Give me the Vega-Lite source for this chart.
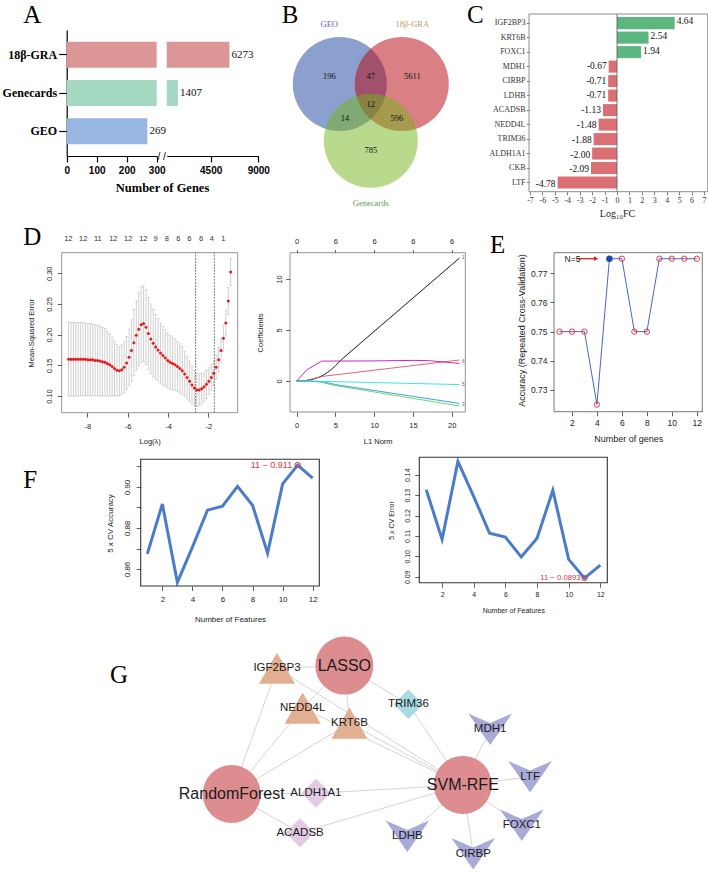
{
  "$schema": "https://vega.github.io/schema/vega-lite/v6.json",
  "width": 708,
  "height": 872,
  "autosize": {"type": "none"},
  "padding": 0,
  "background": "white",
  "config": {
    "view": {"stroke": null},
    "locale": {"number": {"decimal": ".", "thousands": ",", "grouping": [3], "currency": ["$", ""], "minus": "-"}},
    "axis": {"domain": false, "grid": false, "tickColor": "#333333", "tickWidth": 0.8, "labelFont": "Liberation Sans", "labelFontSize": 7.5, "labelColor": "#222222", "labelFlush": false, "labelOverlap": false, "titleFont": "Liberation Sans", "titleFontSize": 7.5, "titleFontWeight": "normal", "titleColor": "#222222", "titleBaseline": "middle", "titleAlign": "center", "titlePadding": 0},
    "text": {"font": "Liberation Sans"}
  },
  "datasets": {
    "genes_a": [{"set": "18β-GRA", "n": 6273}, {"set": "Genecards", "n": 1407}, {"set": "GEO", "n": 269}],
    "venn": [{"set": "GEO", "cx": -1, "cy": 0}, {"set": "18β-GRA", "cx": 1, "cy": 0}, {"set": "Genecards", "cx": 0, "cy": -1.83}],
    "venn_labels": [{"set": "GEO", "lx": -1.34, "ly": 1.935}, {"set": "18β-GRA", "lx": 1.34, "ly": 1.935}, {"set": "Genecards", "lx": 0, "ly": -3.83}],
    "venn_counts": [{"count": 196, "vx": -1.34, "vy": 0.26}, {"count": 47, "vx": 0, "vy": 0.26}, {"count": 5611, "vx": 1.34, "vy": 0.26}, {"count": 12, "vx": 0, "vy": -0.65}, {"count": 14, "vx": -0.83, "vy": -1.11}, {"count": 596, "vx": 0.84, "vy": -1.11}, {"count": 785, "vx": 0, "vy": -2.13}],
    "dge": [{"gene": "IGF2BP3", "fc": 4.64}, {"gene": "KRT6B", "fc": 2.54}, {"gene": "FOXC1", "fc": 1.94}, {"gene": "MDH1", "fc": -0.67}, {"gene": "CIRBP", "fc": -0.71}, {"gene": "LDHB", "fc": -0.71}, {"gene": "ACADSB", "fc": -1.13}, {"gene": "NEDD4L", "fc": -1.48}, {"gene": "TRIM36", "fc": -1.88}, {"gene": "ALDH1A1", "fc": -2.0}, {"gene": "CKB", "fc": -2.09}, {"gene": "LTF", "fc": -4.78}],
    "cv": [
      {"l": -8.93, "m": 0.160, "lo": 0.100, "hi": 0.220}, {"l": -8.81, "m": 0.160, "lo": 0.100, "hi": 0.220}, {"l": -8.69, "m": 0.160, "lo": 0.100, "hi": 0.220}, {"l": -8.57, "m": 0.160, "lo": 0.100, "hi": 0.220},
      {"l": -8.45, "m": 0.160, "lo": 0.100, "hi": 0.220}, {"l": -8.33, "m": 0.160, "lo": 0.100, "hi": 0.220}, {"l": -8.21, "m": 0.160, "lo": 0.100, "hi": 0.220}, {"l": -8.09, "m": 0.160, "lo": 0.101, "hi": 0.219},
      {"l": -7.97, "m": 0.159, "lo": 0.100, "hi": 0.218}, {"l": -7.85, "m": 0.159, "lo": 0.100, "hi": 0.218}, {"l": -7.73, "m": 0.159, "lo": 0.101, "hi": 0.217}, {"l": -7.61, "m": 0.158, "lo": 0.100, "hi": 0.216},
      {"l": -7.49, "m": 0.158, "lo": 0.101, "hi": 0.215}, {"l": -7.37, "m": 0.157, "lo": 0.100, "hi": 0.214}, {"l": -7.25, "m": 0.156, "lo": 0.100, "hi": 0.212}, {"l": -7.13, "m": 0.155, "lo": 0.100, "hi": 0.210},
      {"l": -7.01, "m": 0.153, "lo": 0.100, "hi": 0.206}, {"l": -6.89, "m": 0.151, "lo": 0.100, "hi": 0.202}, {"l": -6.77, "m": 0.148, "lo": 0.100, "hi": 0.196}, {"l": -6.65, "m": 0.145, "lo": 0.100, "hi": 0.190},
      {"l": -6.53, "m": 0.142, "lo": 0.100, "hi": 0.184}, {"l": -6.41, "m": 0.141, "lo": 0.101, "hi": 0.181}, {"l": -6.29, "m": 0.143, "lo": 0.103, "hi": 0.183}, {"l": -6.17, "m": 0.147, "lo": 0.106, "hi": 0.188},
      {"l": -6.05, "m": 0.154, "lo": 0.111, "hi": 0.197}, {"l": -5.93, "m": 0.163, "lo": 0.117, "hi": 0.209}, {"l": -5.81, "m": 0.174, "lo": 0.124, "hi": 0.224}, {"l": -5.69, "m": 0.187, "lo": 0.133, "hi": 0.241},
      {"l": -5.57, "m": 0.199, "lo": 0.142, "hi": 0.256}, {"l": -5.45, "m": 0.209, "lo": 0.149, "hi": 0.269}, {"l": -5.33, "m": 0.216, "lo": 0.154, "hi": 0.278}, {"l": -5.21, "m": 0.218, "lo": 0.156, "hi": 0.280},
      {"l": -5.09, "m": 0.212, "lo": 0.151, "hi": 0.273}, {"l": -4.97, "m": 0.202, "lo": 0.143, "hi": 0.261}, {"l": -4.85, "m": 0.193, "lo": 0.136, "hi": 0.250}, {"l": -4.73, "m": 0.186, "lo": 0.131, "hi": 0.241},
      {"l": -4.61, "m": 0.180, "lo": 0.127, "hi": 0.233}, {"l": -4.49, "m": 0.175, "lo": 0.124, "hi": 0.226}, {"l": -4.37, "m": 0.170, "lo": 0.121, "hi": 0.219}, {"l": -4.25, "m": 0.166, "lo": 0.118, "hi": 0.214},
      {"l": -4.13, "m": 0.162, "lo": 0.116, "hi": 0.208}, {"l": -4.01, "m": 0.158, "lo": 0.113, "hi": 0.203}, {"l": -3.89, "m": 0.155, "lo": 0.111, "hi": 0.199}, {"l": -3.77, "m": 0.153, "lo": 0.110, "hi": 0.196},
      {"l": -3.65, "m": 0.151, "lo": 0.109, "hi": 0.193}, {"l": -3.53, "m": 0.148, "lo": 0.107, "hi": 0.189}, {"l": -3.41, "m": 0.145, "lo": 0.105, "hi": 0.185}, {"l": -3.29, "m": 0.141, "lo": 0.102, "hi": 0.180},
      {"l": -3.17, "m": 0.136, "lo": 0.099, "hi": 0.173}, {"l": -3.05, "m": 0.130, "lo": 0.095, "hi": 0.165}, {"l": -2.93, "m": 0.124, "lo": 0.091, "hi": 0.157}, {"l": -2.81, "m": 0.118, "lo": 0.087, "hi": 0.149},
      {"l": -2.69, "m": 0.113, "lo": 0.084, "hi": 0.142}, {"l": -2.57, "m": 0.110, "lo": 0.083, "hi": 0.137}, {"l": -2.45, "m": 0.110, "lo": 0.084, "hi": 0.136}, {"l": -2.33, "m": 0.112, "lo": 0.087, "hi": 0.137},
      {"l": -2.21, "m": 0.115, "lo": 0.091, "hi": 0.139}, {"l": -2.09, "m": 0.119, "lo": 0.096, "hi": 0.142}, {"l": -1.97, "m": 0.124, "lo": 0.102, "hi": 0.146}, {"l": -1.85, "m": 0.130, "lo": 0.109, "hi": 0.151},
      {"l": -1.73, "m": 0.137, "lo": 0.117, "hi": 0.157}, {"l": -1.61, "m": 0.147, "lo": 0.127, "hi": 0.167}, {"l": -1.49, "m": 0.159, "lo": 0.139, "hi": 0.179}, {"l": -1.37, "m": 0.174, "lo": 0.154, "hi": 0.194},
      {"l": -1.25, "m": 0.194, "lo": 0.173, "hi": 0.215}, {"l": -1.13, "m": 0.219, "lo": 0.198, "hi": 0.240}, {"l": -1.01, "m": 0.255, "lo": 0.233, "hi": 0.277}, {"l": -0.89, "m": 0.302, "lo": 0.280, "hi": 0.325}
    ],
    "dfl": [{"l": -8.94, "df": 12}, {"l": -8.2, "df": 12}, {"l": -7.48, "df": 11}, {"l": -6.71, "df": 12}, {"l": -5.97, "df": 12}, {"l": -5.22, "df": 12}, {"l": -4.61, "df": 9}, {"l": -4.06, "df": 8}, {"l": -3.49, "df": 6}, {"l": -2.94, "df": 6}, {"l": -2.36, "df": 6}, {"l": -1.82, "df": 4}, {"l": -1.26, "df": 1}],
    "cvlines": [{"which": "lambda.min", "l": -2.63}, {"which": "lambda.1se", "l": -1.7}],
    "coef": [
      {"v": "1", "n": 0, "c": 0}, {"v": "1", "n": 1, "c": 0.02}, {"v": "1", "n": 2, "c": 0.15}, {"v": "1", "n": 3, "c": 0.4}, {"v": "1", "n": 3.5, "c": 0.6}, {"v": "1", "n": 4, "c": 0.85}, {"v": "1", "n": 4.5, "c": 1.15}, {"v": "1", "n": 5, "c": 1.5}, {"v": "1", "n": 6, "c": 2.25}, {"v": "1", "n": 21, "c": 12.05},
      {"v": "2", "n": 0, "c": 0}, {"v": "2", "n": 1, "c": 0}, {"v": "2", "n": 3.3, "c": 0.45}, {"v": "2", "n": 21, "c": 2.06},
      {"v": "3", "n": 0, "c": 0}, {"v": "3", "n": 1, "c": 0}, {"v": "3", "n": 3, "c": -0.1}, {"v": "3", "n": 5, "c": -0.45}, {"v": "3", "n": 21, "c": -2.45},
      {"v": "4", "n": 0, "c": 0}, {"v": "4", "n": 1, "c": 0}, {"v": "4", "n": 3.3, "c": -0.05}, {"v": "4", "n": 5, "c": -0.35}, {"v": "4", "n": 21, "c": -2.2},
      {"v": "5", "n": 0, "c": 0}, {"v": "5", "n": 1, "c": 0}, {"v": "5", "n": 3, "c": -0.03}, {"v": "5", "n": 21, "c": -0.35},
      {"v": "6", "n": 0, "c": 0}, {"v": "6", "n": 0.6, "c": 0.5}, {"v": "6", "n": 1.3, "c": 1.1}, {"v": "6", "n": 2, "c": 1.4}, {"v": "6", "n": 3.2, "c": 1.95}, {"v": "6", "n": 10, "c": 1.97}, {"v": "6", "n": 15, "c": 2.02}, {"v": "6", "n": 17, "c": 2.0}, {"v": "6", "n": 21, "c": 1.72}
    ],
    "coefends": [{"v": "1", "n": 21, "c": 12.05}, {"v": "6", "n": 21, "c": 1.9}, {"v": "5", "n": 21, "c": -0.35}, {"v": "3", "n": 21, "c": -2.35}],
    "rfe": [{"k": 1, "acc": 0.75}, {"k": 2, "acc": 0.75}, {"k": 3, "acc": 0.75}, {"k": 4, "acc": 0.725}, {"k": 5, "acc": 0.775}, {"k": 6, "acc": 0.775}, {"k": 7, "acc": 0.75}, {"k": 8, "acc": 0.75}, {"k": 9, "acc": 0.775}, {"k": 10, "acc": 0.775}, {"k": 11, "acc": 0.775}, {"k": 12, "acc": 0.775}],
    "svmacc": [{"k": 1, "acc": 0.8674}, {"k": 2, "acc": 0.8917}, {"k": 3, "acc": 0.8535}, {"k": 4, "acc": 0.8707}, {"k": 5, "acc": 0.8887}, {"k": 6, "acc": 0.8906}, {"k": 7, "acc": 0.9003}, {"k": 8, "acc": 0.8911}, {"k": 9, "acc": 0.8677}, {"k": 10, "acc": 0.9015}, {"k": 11, "acc": 0.9107}, {"k": 12, "acc": 0.9043}],
    "svmerr": [{"k": 1, "err": 0.1326}, {"k": 2, "err": 0.1083}, {"k": 3, "err": 0.1465}, {"k": 4, "err": 0.1293}, {"k": 5, "err": 0.1113}, {"k": 6, "err": 0.1094}, {"k": 7, "err": 0.0997}, {"k": 8, "err": 0.1089}, {"k": 9, "err": 0.1323}, {"k": 10, "err": 0.0985}, {"k": 11, "err": 0.0893}, {"k": 12, "err": 0.0957}],
    "nodes": [
      {"id": "LASSO", "role": "method", "gx": 40.1, "gy": 86.0},
      {"id": "RandomForest", "role": "method", "gx": 8.8, "gy": 32.5},
      {"id": "SVM-RFE", "role": "method", "gx": 73.0, "gy": 36.3},
      {"id": "IGF2BP3", "role": "all3", "gx": 21.4, "gy": 84.9},
      {"id": "NEDD4L", "role": "all3", "gx": 28.5, "gy": 68.3},
      {"id": "KRT6B", "role": "all3", "gx": 41.5, "gy": 62.0},
      {"id": "TRIM36", "role": "lasso_svm", "gx": 57.9, "gy": 69.9},
      {"id": "ALDH1A1", "role": "rf_svm", "gx": 32.2, "gy": 32.8},
      {"id": "ACADSB", "role": "rf_svm", "gx": 27.8, "gy": 16.4},
      {"id": "MDH1", "role": "svm", "gx": 80.6, "gy": 59.4},
      {"id": "LTF", "role": "svm", "gx": 91.7, "gy": 39.6},
      {"id": "FOXC1", "role": "svm", "gx": 89.4, "gy": 19.4},
      {"id": "CIRBP", "role": "svm", "gx": 75.9, "gy": 7.5},
      {"id": "LDHB", "role": "svm", "gx": 57.6, "gy": 14.8}
    ],
    "edges": [
      {"s": "LASSO", "t": "IGF2BP3"}, {"s": "LASSO", "t": "NEDD4L"}, {"s": "LASSO", "t": "KRT6B"}, {"s": "LASSO", "t": "TRIM36"},
      {"s": "RandomForest", "t": "IGF2BP3"}, {"s": "RandomForest", "t": "NEDD4L"}, {"s": "RandomForest", "t": "KRT6B"}, {"s": "RandomForest", "t": "ALDH1A1"}, {"s": "RandomForest", "t": "ACADSB"},
      {"s": "SVM-RFE", "t": "IGF2BP3"}, {"s": "SVM-RFE", "t": "NEDD4L"}, {"s": "SVM-RFE", "t": "KRT6B"}, {"s": "SVM-RFE", "t": "TRIM36"}, {"s": "SVM-RFE", "t": "ALDH1A1"}, {"s": "SVM-RFE", "t": "ACADSB"},
      {"s": "SVM-RFE", "t": "MDH1"}, {"s": "SVM-RFE", "t": "LTF"}, {"s": "SVM-RFE", "t": "FOXC1"}, {"s": "SVM-RFE", "t": "CIRBP"}, {"s": "SVM-RFE", "t": "LDHB"}
    ],
    "letters": [
      {"t": "A", "kind": "panel", "fx": 0.0329, "fy": 0.0260}, {"t": "B", "kind": "panel", "fx": 0.3979, "fy": 0.0266}, {"t": "C", "kind": "panel", "fx": 0.6596, "fy": 0.0266},
      {"t": "D", "kind": "panel", "fx": 0.0329, "fy": 0.2810}, {"t": "E", "kind": "panel", "fx": 0.6921, "fy": 0.2905}, {"t": "F", "kind": "panel", "fx": 0.0329, "fy": 0.5596},
      {"t": "G", "kind": "panel", "fx": 0.1554, "fy": 0.7833}, {"t": "/ /", "kind": "break", "fx": 0.2284, "fy": 0.1795}
    ]
  },
  "layer": [
    {
      "data": {"name": "genes_a"},
      "layer": [
        {
          "mark": {"type": "bar"},
          "encoding": {
            "y": {"field": "set", "type": "nominal", "scale": {"domain": ["18β-GRA", "Genecards", "GEO"], "range": [30, 156], "paddingInner": 0.32, "paddingOuter": 0.31},
              "axis": {"orient": "left", "offset": -66.7, "domain": true, "domainColor": "#000000", "domainWidth": 1.2, "tickColor": "#000000", "tickWidth": 1.2, "tickSize": 8, "labelFont": "Liberation Serif", "labelFontWeight": "bold", "labelFontSize": 12, "labelColor": "#000000", "labelPadding": 2, "title": null}},
            "x": {"field": "n", "type": "quantitative", "scale": {"domain": [0, 300], "range": [66.7, 156.7], "clamp": true, "nice": false, "zero": false},
              "axis": {"orient": "bottom", "offset": -716, "values": [0, 100, 200, 300], "format": "d", "domain": true, "domainColor": "#000000", "domainWidth": 1.2, "tickColor": "#000000", "tickWidth": 1.2, "tickSize": 6, "labelFont": "Liberation Sans", "labelFontWeight": "bold", "labelFontSize": 10, "labelColor": "#000000", "labelPadding": 3, "title": "Number of Genes", "titleFont": "Liberation Serif", "titleFontWeight": "bold", "titleFontSize": 12.5, "titleColor": "#000000", "titleX": 162, "titleY": 31}},
            "color": {"field": "set", "type": "nominal", "scale": {"domain": ["18β-GRA", "Genecards", "GEO"], "range": ["#DD9696", "#A5D8C3", "#98B6E2"]}, "legend": null}
          }
        },
        {
          "transform": [{"filter": "datum.n > 300"}],
          "mark": {"type": "bar"},
          "encoding": {
            "y": {"field": "set", "type": "nominal"},
            "x": {"field": "n", "type": "quantitative", "scale": {"domain": [350, 9000], "range": [166.7, 258.3], "nice": false, "zero": false},
              "axis": {"orient": "bottom", "offset": -716, "values": [4500, 9000], "format": "d", "domain": true, "domainColor": "#000000", "domainWidth": 1.2, "tickColor": "#000000", "tickWidth": 1.2, "tickSize": 6, "labelFont": "Liberation Sans", "labelFontWeight": "bold", "labelFontSize": 10, "labelColor": "#000000", "labelPadding": 3, "title": null}},
            "x2": {"datum": 350},
            "color": {"field": "set", "type": "nominal", "legend": null}
          }
        },
        {
          "transform": [{"filter": "datum.n > 300"}],
          "mark": {"type": "text", "align": "left", "baseline": "middle", "dx": 2, "font": "Liberation Serif", "fontSize": 11, "color": "#111111"},
          "encoding": {
            "y": {"field": "set", "type": "nominal"},
            "x": {"field": "n", "type": "quantitative", "scale": {"domain": [350, 9000], "range": [166.7, 258.3], "nice": false, "zero": false}, "axis": null},
            "text": {"field": "n", "type": "quantitative", "format": "d"}
          }
        },
        {
          "transform": [{"filter": "datum.n <= 300"}],
          "mark": {"type": "text", "align": "left", "baseline": "middle", "dx": 2, "font": "Liberation Serif", "fontSize": 11, "color": "#111111"},
          "encoding": {
            "y": {"field": "set", "type": "nominal"},
            "x": {"field": "n", "type": "quantitative", "scale": {"domain": [0, 300], "range": [66.7, 156.7], "nice": false, "zero": false}, "axis": null},
            "text": {"field": "n", "type": "quantitative", "format": "d"}
          }
        }
      ],
      "resolve": {"scale": {"x": "independent"}}
    },
    {
      "layer": [
        {
          "data": {"name": "venn"},
          "mark": {"type": "point", "shape": "circle", "filled": true, "size": 8836, "opacity": 0.5, "strokeWidth": 0},
          "encoding": {
            "x": {"field": "cx", "type": "quantitative", "scale": {"domain": [-3, 3], "range": [277.8, 463.8], "nice": false, "zero": false}, "axis": null},
            "y": {"field": "cy", "type": "quantitative", "scale": {"domain": [-4, 2], "range": [208, 22], "nice": false, "zero": false}, "axis": null},
            "color": {"field": "set", "type": "nominal", "scale": {"domain": ["GEO", "18β-GRA", "Genecards"], "range": ["#19419B", "#B5010B", "#73B319"]}, "legend": null}
          }
        },
        {
          "data": {"name": "venn_counts"},
          "mark": {"type": "text", "font": "Liberation Serif", "fontSize": 8.5, "color": "#111111", "baseline": "middle"},
          "encoding": {
            "x": {"field": "vx", "type": "quantitative", "axis": null},
            "y": {"field": "vy", "type": "quantitative", "axis": null},
            "text": {"field": "count", "type": "quantitative", "format": "d"}
          }
        },
        {
          "data": {"name": "venn_labels"},
          "mark": {"type": "text", "font": "Liberation Serif", "fontSize": 8.5, "baseline": "middle"},
          "encoding": {
            "x": {"field": "lx", "type": "quantitative", "axis": null},
            "y": {"field": "ly", "type": "quantitative", "axis": null},
            "text": {"field": "set", "type": "nominal"},
            "color": {"field": "set", "type": "nominal", "scale": {"domain": ["GEO", "18β-GRA", "Genecards"], "range": ["#5A63C8", "#B9A064", "#5E9E48"]}, "legend": null}
          }
        }
      ],
      "resolve": {"scale": {"color": "independent"}}
    },
    {
      "layer": [
        {
          "data": {"name": "dge"},
          "mark": {"type": "bar"},
          "encoding": {
            "y": {"field": "gene", "type": "nominal", "scale": {"domain": ["IGF2BP3", "KRT6B", "FOXC1", "MDH1", "CIRBP", "LDHB", "ACADSB", "NEDD4L", "TRIM36", "ALDH1A1", "CKB", "LTF"], "range": [14, 191.7], "paddingInner": 0.17, "paddingOuter": 0.215},
              "axis": {"orient": "left", "offset": -529, "tickSize": 2.5, "tickColor": "#555555", "labelFont": "Liberation Serif", "labelFontSize": 8, "labelColor": "#333333", "labelPadding": 1.5, "title": null}},
            "x": {"field": "fc", "type": "quantitative", "scale": {"domain": [-7, 7], "range": [530, 704], "nice": false, "zero": false},
              "axis": {"orient": "bottom", "offset": -680.3, "values": [-7, -6, -5, -4, -3, -2, -1, 0, 1, 2, 3, 4, 5, 6, 7], "format": "d", "tickSize": 3, "tickColor": "#555555", "labelFont": "Liberation Serif", "labelFontSize": 8, "labelColor": "#333333", "labelPadding": 2, "title": "Log₁₀FC", "titleFont": "Liberation Serif", "titleFontSize": 10, "titleX": 617, "titleY": 22}},
            "color": {"condition": {"test": "datum.fc > 0", "value": "#5DB57F"}, "value": "#DB7074"}
          }
        },
        {
          "data": {"name": "dge"},
          "transform": [{"filter": "datum.fc > 0"}],
          "mark": {"type": "text", "align": "left", "baseline": "middle", "dx": 2, "font": "Liberation Serif", "fontSize": 9.5, "color": "#111111"},
          "encoding": {
            "y": {"field": "gene", "type": "nominal", "scale": {"domain": ["IGF2BP3", "KRT6B", "FOXC1", "MDH1", "CIRBP", "LDHB", "ACADSB", "NEDD4L", "TRIM36", "ALDH1A1", "CKB", "LTF"], "range": [14, 191.7], "paddingInner": 0.17, "paddingOuter": 0.215}, "axis": null},
            "x": {"field": "fc", "type": "quantitative"},
            "text": {"field": "fc", "type": "quantitative", "format": ".2f"}
          }
        },
        {
          "data": {"name": "dge"},
          "transform": [{"filter": "datum.fc < 0"}],
          "mark": {"type": "text", "align": "right", "baseline": "middle", "dx": -2, "font": "Liberation Serif", "fontSize": 9.5, "color": "#111111"},
          "encoding": {
            "y": {"field": "gene", "type": "nominal", "scale": {"domain": ["IGF2BP3", "KRT6B", "FOXC1", "MDH1", "CIRBP", "LDHB", "ACADSB", "NEDD4L", "TRIM36", "ALDH1A1", "CKB", "LTF"], "range": [14, 191.7], "paddingInner": 0.17, "paddingOuter": 0.215}, "axis": null},
            "x": {"field": "fc", "type": "quantitative"},
            "text": {"field": "fc", "type": "quantitative", "format": ".2f"}
          }
        },
        {
          "data": {"values": [{}]},
          "layer": [
            {
              "mark": {"type": "rect", "fill": "white", "fillOpacity": 0, "stroke": "#8C8C8C", "strokeWidth": 1},
              "encoding": {
                "x": {"datum": -7.08, "type": "quantitative"}, "x2": {"datum": 7.3},
                "y": {"datum": 0, "type": "quantitative", "scale": {"domain": [0, 1], "range": [191.7, 14], "nice": false, "zero": false}, "axis": null}, "y2": {"datum": 1}
              }
            },
            {
              "mark": {"type": "rule", "color": "#555555", "strokeWidth": 0.8},
              "encoding": {
                "x": {"datum": 0, "type": "quantitative"},
                "y": {"datum": 0, "type": "quantitative", "axis": null}, "y2": {"datum": 1}
              }
            }
          ]
        }
      ],
      "resolve": {"scale": {"y": "independent"}}
    },
    {
      "layer": [
        {
          "data": {"name": "cv"},
          "mark": {"type": "rule", "color": "#BBBBBB", "strokeWidth": 0.7},
          "encoding": {
            "x": {"field": "l", "type": "quantitative", "scale": {"domain": [-9.269, -0.542], "range": [61.7, 237.7], "nice": false, "zero": false},
              "axis": {"orient": "bottom", "offset": -459.3, "values": [-8, -6, -4, -2], "format": "d", "tickSize": 4.3, "labelPadding": 5, "title": "Log(λ)", "titleX": 149.7, "titleY": 29}},
            "y": {"field": "lo", "type": "quantitative", "scale": {"domain": [0.0728, 0.3336], "range": [412.7, 252.7], "nice": false, "zero": false},
              "axis": {"orient": "left", "offset": -61.7, "values": [0.1, 0.15, 0.2, 0.25, 0.3], "format": ".2f", "labelAngle": -90, "labelAlign": "center", "labelBaseline": "alphabetic", "tickSize": 4.3, "labelPadding": 5.5, "title": "Mean-Squared Error", "titleAngle": -90, "titleX": -30, "titleY": 332.7}},
            "y2": {"field": "hi"}
          }
        },
        {
          "data": {"name": "cv"},
          "mark": {"type": "tick", "orient": "horizontal", "color": "#BBBBBB", "size": 3, "thickness": 0.7},
          "encoding": {"x": {"field": "l", "type": "quantitative"}, "y": {"field": "hi", "type": "quantitative"}}
        },
        {
          "data": {"name": "cv"},
          "mark": {"type": "tick", "orient": "horizontal", "color": "#BBBBBB", "size": 3, "thickness": 0.7},
          "encoding": {"x": {"field": "l", "type": "quantitative"}, "y": {"field": "lo", "type": "quantitative"}}
        },
        {
          "data": {"name": "cv"},
          "mark": {"type": "point", "shape": "circle", "filled": true, "color": "#E41A1C", "size": 9, "opacity": 1},
          "encoding": {"x": {"field": "l", "type": "quantitative"}, "y": {"field": "m", "type": "quantitative"}}
        },
        {
          "data": {"name": "cvlines"},
          "mark": {"type": "rule", "color": "#333333", "strokeWidth": 0.8, "strokeDash": [1.5, 1.5]},
          "encoding": {"x": {"field": "l", "type": "quantitative"}, "y": {"datum": 0.0728, "type": "quantitative"}, "y2": {"datum": 0.3336}}
        },
        {
          "data": {"name": "dfl"},
          "mark": {"type": "text", "fontSize": 7.5, "color": "#333333", "baseline": "middle", "dy": -13.4},
          "encoding": {"x": {"field": "l", "type": "quantitative"}, "y": {"datum": 0.3336, "type": "quantitative"}, "text": {"field": "df", "type": "quantitative"}}
        },
        {
          "data": {"values": [{}]},
          "mark": {"type": "rect", "fill": "white", "fillOpacity": 0, "stroke": "#777777", "strokeWidth": 0.8},
          "encoding": {"x": {"datum": -9.269, "type": "quantitative"}, "x2": {"datum": -0.542}, "y": {"datum": 0.0728, "type": "quantitative"}, "y2": {"datum": 0.3336}}
        }
      ]
    },
    {
      "layer": [
        {
          "data": {"name": "coef"},
          "mark": {"type": "line", "strokeWidth": 0.9},
          "encoding": {
            "x": {"field": "n", "type": "quantitative", "scale": {"domain": [-0.865, 21.76], "range": [290, 465.3], "nice": false, "zero": false},
              "axis": {"orient": "bottom", "offset": -460, "values": [0, 5, 10, 15, 20], "format": "d", "tickSize": 4.3, "labelPadding": 5, "title": "L1 Norm", "titleX": 377.7, "titleY": 29.7}},
            "y": {"field": "c", "type": "quantitative", "scale": {"domain": [-3.04, 12.58], "range": [412, 252.7], "nice": false, "zero": false},
              "axis": {"orient": "left", "offset": -290, "values": [0, 5, 10], "format": "d", "labelAngle": -90, "labelAlign": "center", "labelBaseline": "alphabetic", "tickSize": 4.3, "labelPadding": 4.5, "title": "Coefficients", "titleAngle": -90, "titleX": -30, "titleY": 332.4}},
            "color": {"field": "v", "type": "nominal", "scale": {"domain": ["1", "2", "3", "4", "5", "6"], "range": ["#000000", "#DF536B", "#61D04F", "#2297E6", "#28E2E5", "#CD0BBC"]}, "legend": null}
          }
        },
        {
          "data": {"name": "coefends"},
          "mark": {"type": "text", "fontSize": 4.5, "color": "#555555", "align": "left", "baseline": "middle", "dx": 2.5},
          "encoding": {
            "x": {"field": "n", "type": "quantitative", "scale": {"domain": [-0.865, 21.76], "range": [290, 465.3], "nice": false, "zero": false}, "axis": null},
            "y": {"field": "c", "type": "quantitative"},
            "text": {"field": "v", "type": "nominal"}
          }
        },
        {
          "data": {"values": [{}]},
          "mark": {"type": "rect", "fill": "white", "fillOpacity": 0, "stroke": "#777777", "strokeWidth": 0.8},
          "encoding": {
            "x": {"datum": -0.865, "type": "quantitative", "scale": {"domain": [-0.865, 21.76], "range": [290, 465.3], "nice": false, "zero": false},
              "axis": {"orient": "top", "offset": -252.7, "values": [0, 5, 10, 15, 20], "labelExpr": "datum.value == 0 ? '0' : '6'", "tickSize": 3, "labelPadding": 8, "labelBaseline": "middle", "title": null}},
            "x2": {"datum": 21.76},
            "y": {"datum": -3.04, "type": "quantitative"}, "y2": {"datum": 12.58}
          }
        }
      ],
      "resolve": {"scale": {"x": "independent"}}
    },
    {
      "data": {"name": "rfe"},
      "layer": [
        {
          "mark": {"type": "line", "color": "#4169C8", "strokeWidth": 1},
          "encoding": {
            "x": {"field": "k", "type": "quantitative", "scale": {"domain": [0.56, 12.44], "range": [554, 702.3], "nice": false, "zero": false},
              "axis": {"orient": "bottom", "offset": -460.3, "values": [2, 4, 6, 8, 10, 12], "format": "d", "tickSize": 4, "labelFontSize": 8.5, "labelPadding": 3, "title": "Number of genes", "titleFontSize": 9, "titleX": 628.2, "titleY": 26.6}},
            "y": {"field": "acc", "type": "quantitative", "scale": {"domain": [0.72256, 0.77706], "range": [411.7, 252.7], "nice": false, "zero": false},
              "axis": {"orient": "left", "offset": -554, "values": [0.73, 0.74, 0.75, 0.76, 0.77], "format": ".2f", "tickSize": 4, "labelFontSize": 8.5, "labelPadding": 3, "labelAlign": "right", "labelBaseline": "middle", "title": "Accuracy (Repeated Cross-Validation)", "titleFontSize": 9, "titleAngle": -90, "titleX": -32.3, "titleY": 330}}
          }
        },
        {
          "transform": [{"filter": "datum.k != 5"}],
          "mark": {"type": "point", "shape": "circle", "filled": false, "color": "#E8363D", "size": 29, "strokeWidth": 1, "opacity": 1},
          "encoding": {"x": {"field": "k", "type": "quantitative"}, "y": {"field": "acc", "type": "quantitative"}}
        },
        {
          "transform": [{"filter": "datum.k == 5"}],
          "mark": {"type": "point", "shape": "circle", "filled": true, "color": "#2046A8", "size": 42, "opacity": 1},
          "encoding": {"x": {"field": "k", "type": "quantitative"}, "y": {"field": "acc", "type": "quantitative"}}
        },
        {
          "data": {"values": [{}]},
          "layer": [
            {
              "mark": {"type": "rule", "color": "#E31A1C", "strokeWidth": 1.3},
              "encoding": {"x": {"datum": 2.35, "type": "quantitative"}, "x2": {"datum": 3.9}, "y": {"datum": 0.775, "type": "quantitative"}}
            },
            {
              "mark": {"type": "point", "shape": "triangle-right", "filled": true, "color": "#E31A1C", "size": 22, "opacity": 1},
              "encoding": {"x": {"datum": 3.93, "type": "quantitative"}, "y": {"datum": 0.775, "type": "quantitative"}}
            },
            {
              "mark": {"type": "text", "fontSize": 8.5, "color": "#222222", "baseline": "middle"},
              "encoding": {"x": {"datum": 2.04, "type": "quantitative"}, "y": {"datum": 0.775, "type": "quantitative"}, "text": {"value": "N=5"}}
            },
            {
              "mark": {"type": "rect", "fill": "white", "fillOpacity": 0, "stroke": "#555555", "strokeWidth": 0.8},
              "encoding": {"x": {"datum": 0.56, "type": "quantitative"}, "x2": {"datum": 12.44}, "y": {"datum": 0.72256, "type": "quantitative"}, "y2": {"datum": 0.77706}}
            }
          ]
        }
      ]
    },
    {
      "data": {"name": "svmacc"},
      "layer": [
        {
          "mark": {"type": "line", "color": "#4A7CC9", "strokeWidth": 3},
          "encoding": {
            "x": {"field": "k", "type": "quantitative", "scale": {"domain": [0.56, 12.44], "range": [140.7, 319.3], "nice": false, "zero": false},
              "axis": {"orient": "bottom", "offset": -286, "values": [2, 4, 6, 8, 10, 12], "format": "d", "tickSize": 4.5, "labelFontSize": 8, "labelPadding": 5, "title": "Number of Features", "titleFontSize": 8, "titleX": 230, "titleY": 33.3}},
            "y": {"field": "acc", "type": "quantitative", "scale": {"domain": [0.85171, 0.91351], "range": [586, 459.3], "nice": false, "zero": false},
              "axis": {"orient": "left", "offset": -140.7, "values": [0.86, 0.87, 0.88, 0.89, 0.9, 0.91], "labelExpr": "round(datum.value * 100) % 2 == 0 ? format(datum.value, '.2f') : ''", "labelAngle": -90, "labelAlign": "center", "labelBaseline": "alphabetic", "tickSize": 4.5, "labelFontSize": 8, "labelPadding": 6.5, "title": "5 x CV Accuracy", "titleFontSize": 8, "titleAngle": -90, "titleX": -30.7, "titleY": 523}}
          }
        },
        {
          "transform": [{"filter": "datum.k == 11"}],
          "layer": [
            {
              "mark": {"type": "point", "shape": "circle", "filled": false, "color": "#E0313A", "size": 30, "strokeWidth": 1, "opacity": 1},
              "encoding": {"x": {"field": "k", "type": "quantitative"}, "y": {"field": "acc", "type": "quantitative"}}
            },
            {
              "mark": {"type": "text", "fontSize": 9, "color": "#E0313A", "align": "right", "baseline": "middle", "dx": -5.5},
              "encoding": {"x": {"field": "k", "type": "quantitative"}, "y": {"field": "acc", "type": "quantitative"}, "text": {"value": "11 − 0.911"}}
            }
          ]
        },
        {
          "data": {"values": [{}]},
          "mark": {"type": "rect", "fill": "white", "fillOpacity": 0, "stroke": "#333333", "strokeWidth": 1.1},
          "encoding": {"x": {"datum": 0.56, "type": "quantitative"}, "x2": {"datum": 12.44}, "y": {"datum": 0.85171, "type": "quantitative"}, "y2": {"datum": 0.91351}}
        }
      ]
    },
    {
      "data": {"name": "svmerr"},
      "layer": [
        {
          "mark": {"type": "line", "color": "#4A7CC9", "strokeWidth": 3},
          "encoding": {
            "x": {"field": "k", "type": "quantitative", "scale": {"domain": [0.56, 12.44], "range": [419.3, 607.3], "nice": false, "zero": false},
              "axis": {"orient": "bottom", "offset": -289.3, "values": [2, 4, 6, 8, 10, 12], "format": "d", "tickSize": 4.5, "labelFontSize": 7, "labelPadding": 3.5, "title": "Number of Features", "titleFontSize": 7, "titleX": 513.3, "titleY": 28}},
            "y": {"field": "err", "type": "quantitative", "scale": {"domain": [0.08706, 0.14853], "range": [582.7, 457.3], "nice": false, "zero": false},
              "axis": {"orient": "left", "offset": -419.3, "values": [0.09, 0.1, 0.11, 0.12, 0.13, 0.14], "format": ".2f", "labelAngle": -90, "labelAlign": "center", "labelBaseline": "alphabetic", "tickSize": 4.5, "labelFontSize": 7, "labelPadding": 5.3, "title": "5 x CV Error", "titleFontSize": 7, "titleAngle": -90, "titleX": -27.6, "titleY": 520}}
          }
        },
        {
          "transform": [{"filter": "datum.k == 11"}],
          "layer": [
            {
              "mark": {"type": "point", "shape": "circle", "filled": false, "color": "#E0313A", "size": 26, "strokeWidth": 1, "opacity": 1},
              "encoding": {"x": {"field": "k", "type": "quantitative"}, "y": {"field": "err", "type": "quantitative"}}
            },
            {
              "mark": {"type": "text", "fontSize": 7.7, "color": "#E0313A", "align": "right", "baseline": "middle", "dx": -4},
              "encoding": {"x": {"field": "k", "type": "quantitative"}, "y": {"field": "err", "type": "quantitative"}, "text": {"value": "11 − 0.0893"}}
            }
          ]
        },
        {
          "data": {"values": [{}]},
          "mark": {"type": "rect", "fill": "white", "fillOpacity": 0, "stroke": "#333333", "strokeWidth": 1.1},
          "encoding": {"x": {"datum": 0.56, "type": "quantitative"}, "x2": {"datum": 12.44}, "y": {"datum": 0.08706, "type": "quantitative"}, "y2": {"datum": 0.14853}}
        }
      ]
    },
    {
      "layer": [
        {
          "data": {"name": "edges"},
          "transform": [
            {"lookup": "s", "from": {"data": {"name": "nodes"}, "key": "id", "fields": ["gx", "gy"]}, "as": ["sx", "sy"]},
            {"lookup": "t", "from": {"data": {"name": "nodes"}, "key": "id", "fields": ["gx", "gy"]}, "as": ["tx", "ty"]}
          ],
          "mark": {"type": "rule", "color": "#C9C9C9", "strokeWidth": 0.8},
          "encoding": {
            "x": {"field": "sx", "type": "quantitative", "scale": {"domain": [0, 100], "range": [200, 560], "nice": false, "zero": false}, "axis": null},
            "y": {"field": "sy", "type": "quantitative", "scale": {"domain": [0, 100], "range": [872, 632], "nice": false, "zero": false}, "axis": null},
            "x2": {"field": "tx"}, "y2": {"field": "ty"}
          }
        },
        {
          "data": {"name": "nodes"},
          "transform": [{"filter": "datum.role == 'method'"}],
          "mark": {"type": "point", "shape": "circle", "filled": true, "size": 3364, "color": "#DD8D90", "opacity": 1, "strokeWidth": 0},
          "encoding": {"x": {"field": "gx", "type": "quantitative", "axis": null}, "y": {"field": "gy", "type": "quantitative", "axis": null}}
        },
        {
          "data": {"name": "nodes"},
          "transform": [{"filter": "datum.role == 'all3'"}],
          "mark": {"type": "point", "shape": "triangle-up", "filled": true, "size": 1300, "color": "#E3AF92", "opacity": 1, "strokeWidth": 0},
          "encoding": {"x": {"field": "gx", "type": "quantitative", "axis": null}, "y": {"field": "gy", "type": "quantitative", "axis": null}}
        },
        {
          "data": {"name": "nodes"},
          "transform": [{"filter": "datum.role == 'lasso_svm'"}],
          "mark": {"type": "point", "shape": "diamond", "filled": true, "size": 870, "color": "#A9D9E3", "opacity": 1, "strokeWidth": 0},
          "encoding": {"x": {"field": "gx", "type": "quantitative", "axis": null}, "y": {"field": "gy", "type": "quantitative", "axis": null}}
        },
        {
          "data": {"name": "nodes"},
          "transform": [{"filter": "datum.role == 'rf_svm'"}],
          "mark": {"type": "point", "shape": "diamond", "filled": true, "size": 841, "color": "#E2CBE3", "opacity": 1, "strokeWidth": 0},
          "encoding": {"x": {"field": "gx", "type": "quantitative", "axis": null}, "y": {"field": "gy", "type": "quantitative", "axis": null}}
        },
        {
          "data": {"name": "nodes"},
          "transform": [{"filter": "datum.role == 'svm'"}],
          "mark": {"type": "point", "shape": "M-1,-0.73L0,-0.3L1,-0.73L0,0.71Z", "filled": true, "size": 1910, "color": "#AAAAD8", "opacity": 1, "strokeWidth": 0},
          "encoding": {"x": {"field": "gx", "type": "quantitative", "axis": null}, "y": {"field": "gy", "type": "quantitative", "axis": null}}
        },
        {
          "data": {"name": "nodes"},
          "transform": [{"filter": "datum.role == 'method'"}],
          "mark": {"type": "text", "fontSize": 16, "color": "#1A1A1A", "baseline": "middle"},
          "encoding": {"x": {"field": "gx", "type": "quantitative", "axis": null}, "y": {"field": "gy", "type": "quantitative", "axis": null}, "text": {"field": "id", "type": "nominal"}}
        },
        {
          "data": {"name": "nodes"},
          "transform": [{"filter": "datum.role != 'method'"}],
          "mark": {"type": "text", "fontSize": 11.5, "color": "#1A1A1A", "baseline": "middle"},
          "encoding": {"x": {"field": "gx", "type": "quantitative", "axis": null}, "y": {"field": "gy", "type": "quantitative", "axis": null}, "text": {"field": "id", "type": "nominal"}}
        }
      ]
    },
    {
      "data": {"name": "letters"},
      "layer": [
        {
          "transform": [{"filter": "datum.kind == 'panel'"}],
          "mark": {"type": "text", "font": "Liberation Serif", "fontSize": 25, "align": "left", "baseline": "alphabetic", "color": "#000000"},
          "encoding": {
            "x": {"field": "fx", "type": "quantitative", "scale": {"domain": [0, 1], "range": [0, 708], "nice": false, "zero": false}, "axis": null},
            "y": {"field": "fy", "type": "quantitative", "scale": {"domain": [0, 1], "range": [0, 872], "nice": false, "zero": false}, "axis": null},
            "text": {"field": "t", "type": "nominal"}
          }
        },
        {
          "transform": [{"filter": "datum.kind == 'break'"}],
          "mark": {"type": "text", "fontSize": 10, "align": "center", "baseline": "middle", "color": "#000000"},
          "encoding": {
            "x": {"field": "fx", "type": "quantitative", "axis": null},
            "y": {"field": "fy", "type": "quantitative", "axis": null},
            "text": {"field": "t", "type": "nominal"}
          }
        }
      ]
    }
  ],
  "resolve": {
    "scale": {"x": "independent", "y": "independent", "color": "independent"},
    "axis": {"x": "independent", "y": "independent"}
  }
}
